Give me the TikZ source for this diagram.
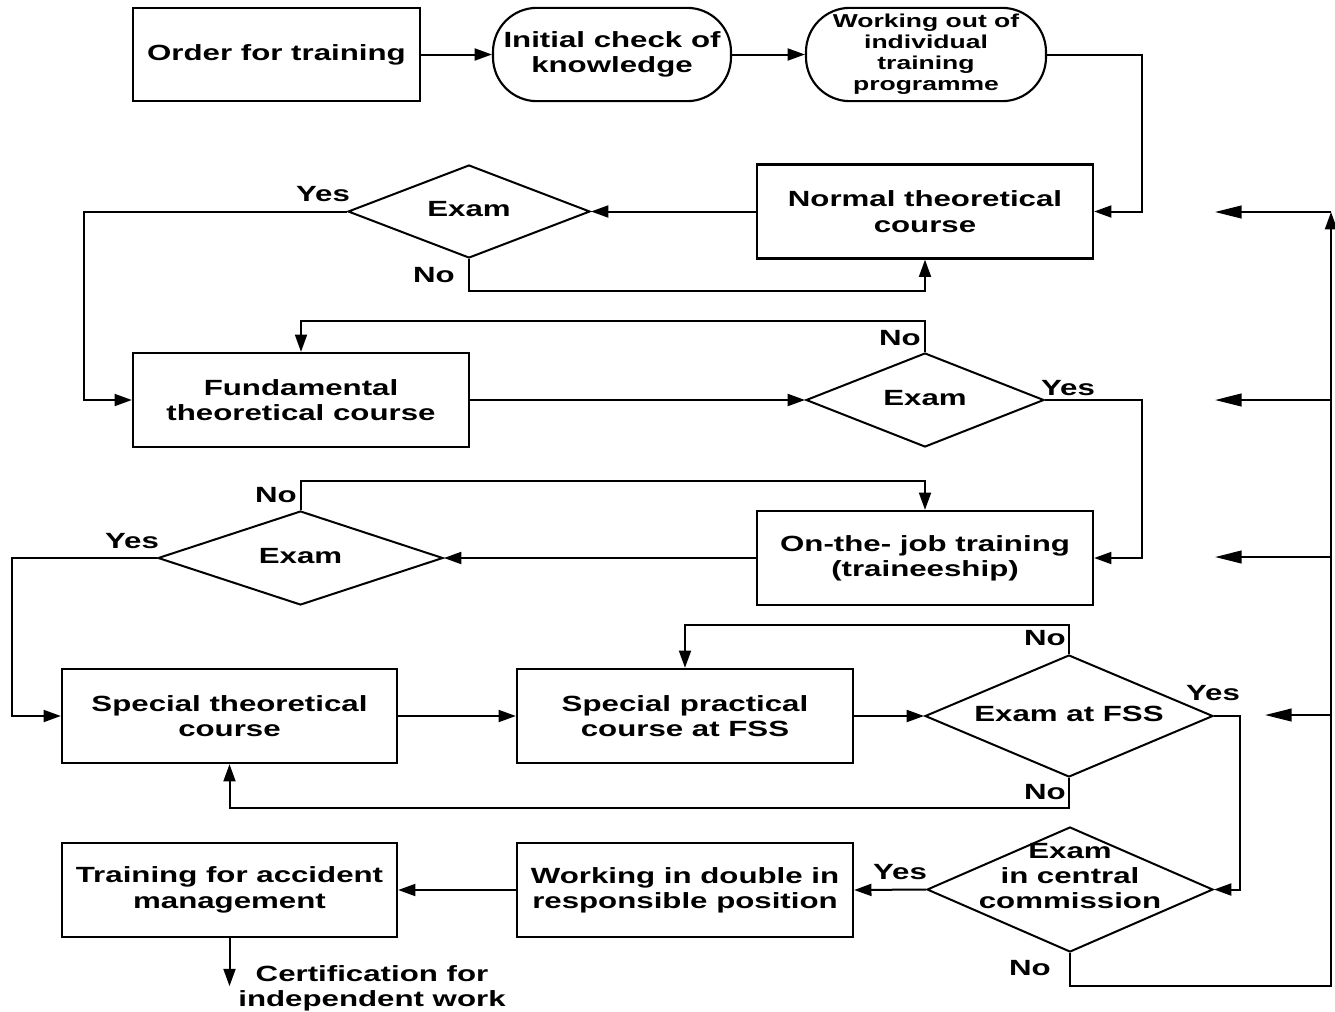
\documentclass[tikz,border=0pt]{standalone}
\usepackage{fontspec}
\setmainfont{Liberation Sans}[FakeStretch=1.42]
\usetikzlibrary{shapes.geometric,arrows.meta}
\begin{document}
\begin{tikzpicture}[x=0.75pt,y=-0.75pt,
  font=\fontsize{16.5}{19}\selectfont\bfseries,
  every node/.style={inner sep=0pt},
  box/.style={draw,line width=1.7pt,rectangle,minimum width=252pt,minimum height=70.5pt,align=center},
  pill/.style={draw,line width=1.6pt,rectangle,rounded corners=33pt,minimum width=179pt,minimum height=70pt,align=center},
  dia/.style={draw,line width=1.5pt,diamond},
  txt/.style={align=center},
  lbl/.style={},
  arr/.style={line width=1.5pt,-{Triangle[length=13pt,width=9pt]}},
  farr/.style={line width=1.5pt,-{Triangle[length=20pt,width=9.5pt]}}
]
\useasboundingbox (0,0) rectangle (1335,1011);

% top row
\node[box,minimum width=215.25pt,minimum height=69.75pt] (order) at (276.5,54.5) {Order for training};
\node[pill,minimum width=178.5pt] (init) at (612,54.5) {Initial check of\\knowledge};
\node[pill,minimum width=180pt,font=\fontsize{14}{15.75}\selectfont\bfseries] (work) at (926,54.5) {Working out of\\individual\\training\\programme};

% row 2
\node[box] (normal) at (925,211.5) {Normal theoretical\\course};
\node[dia,minimum width=181.5pt,minimum height=69.75pt] (exam1) at (469,211.5) {};
\node[txt] (exam1t) at (469,209) {Exam};

% row 3
\node[box] (fund) at (301,400) {Fundamental\\theoretical course};
\node[dia,minimum width=178.5pt,minimum height=70.5pt] (exam2) at (925,400) {};
\node[txt] (exam2t) at (925,398) {Exam};

% row 4
\node[box] (ojt) at (925,558) {On-the- job training\\(traineeship)};
\node[dia,minimum width=213.75pt,minimum height=70.5pt] (exam3) at (300.5,558) {};
\node[txt] (exam3t) at (300.5,556) {Exam};

% row 5
\node[box,minimum width=251.25pt] (spth) at (229.5,716) {Special theoretical\\course};
\node[box] (sppr) at (685,716) {Special practical\\course at FSS};
\node[dia,minimum width=216pt,minimum height=91.5pt] (fss) at (1069,716) {};
\node[txt] (fsst) at (1069,714) {Exam at FSS};

% row 6
\node[dia,minimum width=214.5pt,minimum height=93.75pt] (cc) at (1070,889.5) {};
\node[txt] (cct) at (1070,876) {Exam\\in central\\commission};
\node[box] (dbl) at (685,890) {Working in double in\\responsible position};
\node[box,minimum width=251.25pt] (acc) at (229.5,890) {Training for accident\\management};
\node[txt] (cert) at (372,988) {Certification for\\independent work};

% connectors
\draw[arr] (order.east) -- (init.west);
\draw[arr] (init.east) -- (work.west);
\draw[arr] (work.east) -- ++(95,0) |- (normal.east);
\draw[arr] (normal.west) -- (exam1.east);
\draw[arr] (exam1.south) -- ++(0,32) -| (normal.south);
\draw[arr] (exam1.west) -- ++(-263,0) |- (fund.west);
\draw[arr] (fund.east) -- (exam2.west);
\draw[arr] (exam2.north) -- ++(0,-31) -| (fund.north);
\draw[arr] (exam2.east) -- ++(97,0) |- (ojt.east);
\draw[arr] (ojt.west) -- (exam3.east);
\draw[arr] (exam3.north) -- ++(0,-29) -| (ojt.north);
\draw[arr] (exam3.west) -- ++(-145,0) |- (spth.west);
\draw[arr] (spth.east) -- (sppr.west);
\draw[arr] (sppr.east) -- (fss.west);
\draw[arr] (fss.north) -- ++(0,-29) -| (sppr.north);
\draw[arr] (fss.south) -- ++(0,30) -| (spth.south);
\draw[arr] (fss.east) -- ++(26,0) |- (cc.east);
\draw[arr] (cc.west) -- (dbl.east);
\draw[arr] (dbl.west) -- (acc.east);
\draw[arr] (acc.south) -- ++(0,48);

% return line
\coordinate (rtop) at (1331,212);
\coordinate (r2) at (1331,400);
\coordinate (r3) at (1331,557);
\coordinate (r4) at (1331,715);
\draw[arr] (cc.south) -- ++(0,33) -| (rtop);
\draw[farr] (rtop) -- (1215,212);
\draw[farr] (r2) -- (1215,400);
\draw[farr] (r3) -- (1215,557);
\draw[farr] (r4) -- (1265,715);

% labels
\node[lbl] (y1) at (323,194) {Yes};
\node[lbl] (n1) at (434,275) {No};
\node[lbl] (n2) at (900,338) {No};
\node[lbl] (y2) at (1068,388) {Yes};
\node[lbl] (n3) at (276,495) {No};
\node[lbl] (y3) at (132,541) {Yes};
\node[lbl] (n4) at (1045,638) {No};
\node[lbl] (y4) at (1213,693) {Yes};
\node[lbl] (n5) at (1045,792) {No};
\node[lbl] (y5) at (900,872) {Yes};
\node[lbl] (n6) at (1030,968) {No};
\end{tikzpicture}
\end{document}
